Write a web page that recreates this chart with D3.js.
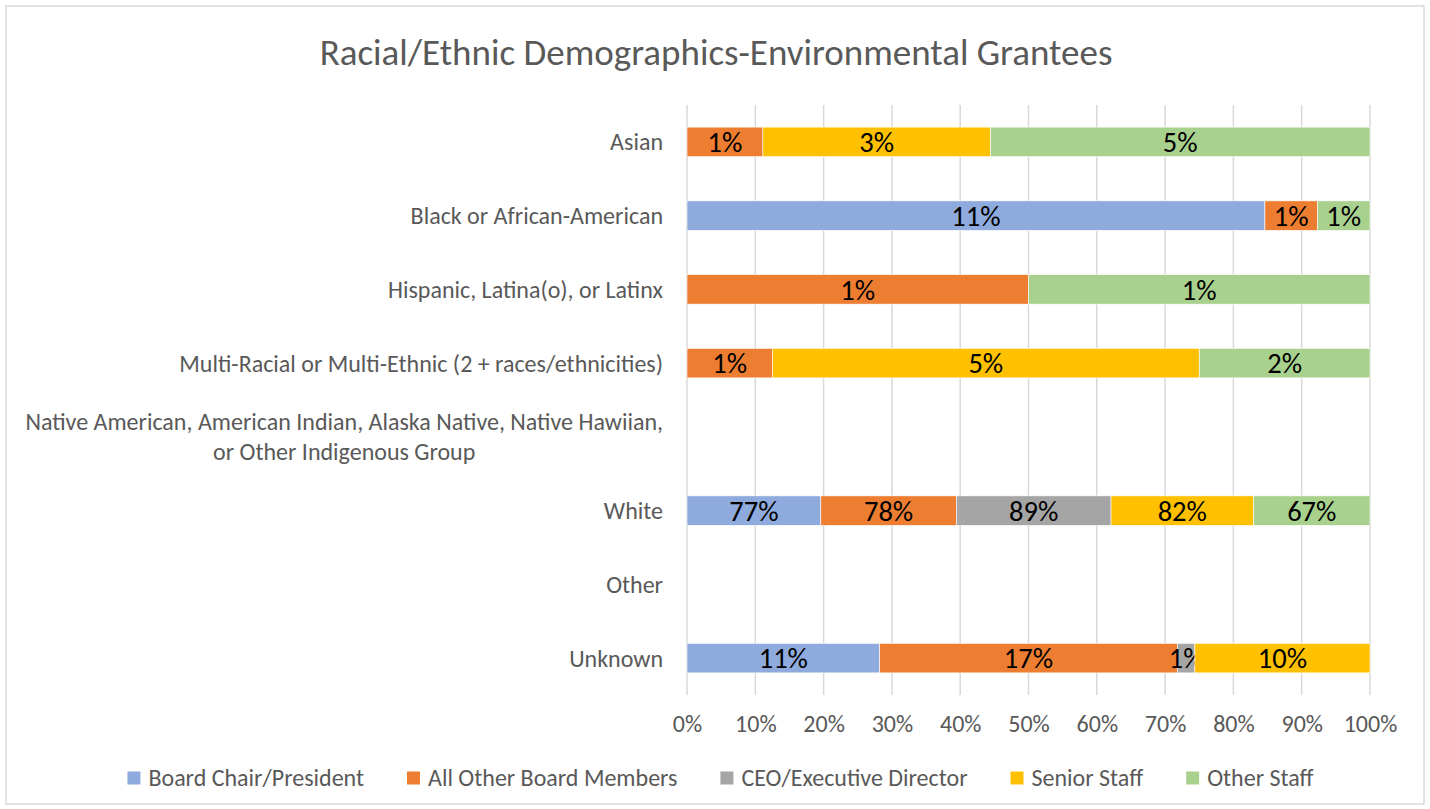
<!DOCTYPE html>
<html>
<head>
<meta charset="utf-8">
<script src="https://cdn.jsdelivr.net/npm/d3@7"></script>
<style>
  html, body { margin: 0; padding: 0; background: #fff; }
  svg text { font-family: Carlito, Calibri, Lato, sans-serif; }
</style>
</head>
<body>
<svg id="chart" width="1430" height="809"></svg>
<script>
// Datos del gráfico
const categories = [
  "Asian",
  "Black or African-American",
  "Hispanic, Latina(o), or Latinx",
  "Multi-Racial or Multi-Ethnic (2 + races/ethnicities)",
  "Native American, American Indian, Alaska Native, Native Hawiian, or Other Indigenous Group",
  "White",
  "Other",
  "Unknown"
];
const seriesNames = ["Board Chair/President", "All Other Board Members", "CEO/Executive Director", "Senior Staff", "Other Staff"];
const seriesColors = ["#8FAADC", "#ED7D31", "#A5A5A5", "#FFC000", "#A9D18E"];
// valores en %, null = sin dato
const boardChair = [null, 11, null, null, null, 77, null, 11];
const otherBoard = [1, 1, 1, 1, null, 78, null, 17];
const ceo        = [null, null, null, null, null, 89, null, 1];
const seniorStaff = [3, null, null, 5, null, 82, null, 10];
const otherStaff = [5, 1, 1, 2, null, 67, null, null];
const xTicks = [0, 0.1, 0.2, 0.3, 0.4, 0.5, 0.6, 0.7, 0.8, 0.9, 1];

const allSeries = [boardChair, otherBoard, ceo, seniorStaff, otherStaff];

const svg = d3.select('#chart');
const W = 1430, H = 809;
const FONT = 'Carlito, Calibri, Lato, sans-serif';

// Borde del gráfico
svg.append('rect')
  .attr('x', 6).attr('y', 6).attr('width', W - 12).attr('height', H - 11)
  .attr('fill', '#fff').attr('stroke', '#D9D9D9').attr('stroke-width', 1.5);

// Título
svg.append('text')
  .attr('x', 716).attr('y', 52).attr('dy', '0.35em')
  .attr('text-anchor', 'middle')
  .attr('fill', '#595959').attr('font-size', 37)
  .text('Racial/Ethnic Demographics-Environmental Grantees');

const x = d3.scaleLinear().domain([0, 1]).range([687, 1370]);
const y = d3.scaleBand().domain(categories).range([105, 695]).paddingInner(0.6).paddingOuter(0.3);

// Líneas de cuadrícula
svg.append('g')
  .selectAll('line')
  .data(xTicks)
  .join('line')
  .attr('x1', d => x(d)).attr('x2', d => x(d))
  .attr('y1', 105).attr('y2', 695)
  .attr('stroke', '#D9D9D9').attr('stroke-width', 1.5);

// Eje X
const xAxis = svg.append('g')
  .attr('transform', 'translate(0,724)')
  .call(d3.axisBottom(x).tickValues(xTicks).tickFormat(d3.format('.0%')).tickSize(0).tickPadding(0));
xAxis.select('.domain').remove();
xAxis.selectAll('text')
  .attr('y', 0).attr('dy', '0.35em')
  .attr('fill', '#595959').attr('font-size', 24)
  .style('font-family', FONT);

// Tabla para el stack
const table = categories.map((c, i) => {
  const row = { category: c };
  seriesNames.forEach((s, k) => { row[s] = allSeries[k][i] || 0; });
  return row;
});
const stack = d3.stack().keys(seriesNames).offset(d3.stackOffsetExpand);
const stacked = stack(table);

const layers = svg.append('g')
  .selectAll('g')
  .data(stacked)
  .join('g')
  .attr('fill', (d, i) => seriesColors[i]);

layers.selectAll('rect')
  .data(d => d.filter(p => p.data[d.key] > 0))
  .join('rect')
  .attr('x', p => x(p[0]))
  .attr('width', p => x(p[1]) - x(p[0]))
  .attr('y', p => y(p.data.category))
  .attr('height', y.bandwidth())
  .attr('stroke', '#fff').attr('stroke-width', 0.6);

// Etiquetas de datos
layers.selectAll('text')
  .data(d => d.filter(p => p.data[d.key] > 0).map(p => ({ p, key: d.key })))
  .join('text')
  .attr('x', d => (x(d.p[0]) + x(d.p[1])) / 2)
  .attr('y', d => y(d.p.data.category) + y.bandwidth() / 2)
  .attr('dy', '0.36em')
  .attr('text-anchor', 'middle')
  .attr('fill', '#000').attr('font-size', 28.5)
  .text(d => d.p.data[d.key] + '%');

// Etiquetas de categorías (con salto de línea)
const catG = svg.append('g');
categories.forEach(c => {
  const cy = y(c) + y.bandwidth() / 2;
  const t = catG.append('text')
    .attr('fill', '#595959').attr('font-size', 24)
    .attr('text-anchor', 'middle');
  const words = c.split(' ');
  const lines = [];
  let line = [];
  const probe = catG.append('text').attr('font-size', 24);
  words.forEach(w => {
    const test = line.concat(w).join(' ');
    probe.text(test);
    if (probe.node().getComputedTextLength() > 660 && line.length) {
      lines.push(line.join(' '));
      line = [w];
    } else {
      line.push(w);
    }
  });
  lines.push(line.join(' '));
  let maxW = 0;
  lines.forEach(l => { probe.text(l); maxW = Math.max(maxW, probe.node().getComputedTextLength()); });
  probe.remove();
  const cx = 663 - maxW / 2;
  const lh = 30;
  lines.forEach((l, i) => {
    t.append('tspan')
      .attr('x', cx)
      .attr('y', cy + (i - (lines.length - 1) / 2) * lh)
      .attr('dy', '0.35em')
      .text(l);
  });
});

// Leyenda
const legend = svg.append('g');
let lx = 0;
seriesNames.forEach((s, i) => {
  const g = legend.append('g').attr('transform', `translate(${lx},0)`);
  g.append('rect').attr('x', 0).attr('y', -6.5).attr('width', 13).attr('height', 13).attr('fill', seriesColors[i]);
  const tx = g.append('text').attr('x', 21).attr('dy', '0.35em')
    .attr('fill', '#595959').attr('font-size', 24).text(s);
  lx += 21 + tx.node().getComputedTextLength() + 43;
});
const legendW = lx - 43;
legend.attr('transform', `translate(${720.5 - legendW / 2},778)`);
</script>
</body>
</html>
